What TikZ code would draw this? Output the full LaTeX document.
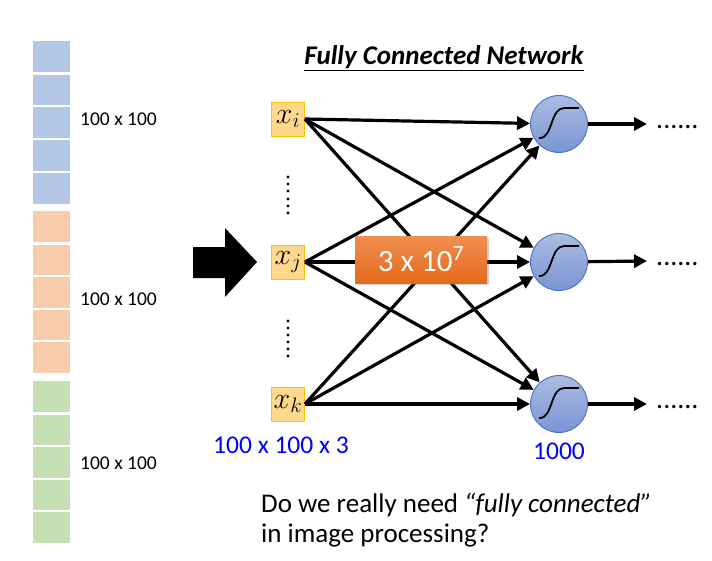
\documentclass[tikz,border=0pt]{standalone}
\usepackage{fix-cm}
\usepackage{fontspec}
\setmainfont{Carlito}
\usetikzlibrary{arrows.meta,shadows}
\definecolor{stripeblue}{RGB}{180,199,231}
\definecolor{stripeorange}{RGB}{248,203,173}
\definecolor{stripegreen}{RGB}{197,224,180}
\definecolor{inbox}{RGB}{255,216,140}
\definecolor{inboxborder}{RGB}{255,192,0}
\definecolor{neutop}{RGB}{172,188,226}
\definecolor{neubot}{RGB}{122,148,212}
\definecolor{neuborder}{RGB}{68,114,196}
\definecolor{ortop}{RGB}{241,142,80}
\definecolor{orbot}{RGB}{228,106,28}
\definecolor{txtblue}{RGB}{0,0,255}
\begin{document}
\begin{tikzpicture}[x=1pt,y=-1pt,
  inputbox/.style={draw=inboxborder,fill=inbox,line width=0.8pt,minimum width=33pt,minimum height=34pt,inner sep=0pt,font=\fontsize{30}{32}\selectfont},
  neuron/.style={circle,draw=neuborder,line width=0.9pt,top color=neutop,bottom color=neubot,minimum size=57pt,inner sep=0pt},
  conn/.style={line width=3.2pt,-{Triangle[length=13pt,width=13pt]}},
  lbl/.style={font=\fontsize{19.5}{22}\selectfont,anchor=west,inner sep=0pt},
  bluelbl/.style={font=\fontsize{25.5}{28}\selectfont,text=txtblue,inner sep=0pt},
  dotsr/.style={font=\fontsize{28}{30}\selectfont,anchor=base west,inner sep=0pt}
]
\useasboundingbox (0,0) rectangle (712,560);
% stripes
\foreach \a/\b in {41/72,75/105,107/138,140/171,173/204}{\fill[stripeblue] (33,\a) rectangle (70,\b);}
\foreach \a/\b in {211/242,245/275,277/308,310/340,342/373}{\fill[stripeorange] (33,\a) rectangle (70,\b);}
\foreach \a/\b in {381/412,415/445,447/478,480/510,512/543}{\fill[stripegreen] (33,\a) rectangle (70,\b);}
\node[lbl] (l1) at (80,119) {100 x 100};
\node[lbl] (l2) at (80,299) {100 x 100};
\node[lbl] (l3) at (80,463) {100 x 100};
% big arrow
\fill[black] (193,247) -- (225,247) -- (225,228) -- (257,262) -- (225,297) -- (225,278) -- (193,278) -- cycle;
% title
\node[font=\bfseries\itshape\fontsize{27}{30}\selectfont,inner sep=0pt] (title) at (444,58) {\underline{Fully Connected Network}};
% inputs
\node[inputbox] (xi) at (288,119) {$x_i$};
\node[inputbox] (xj) at (288,262) {$x_j$};
\node[inputbox] (xk) at (288,404) {$x_k$};
\foreach \y in {177,184,191,199,206,213}{\fill (288,\y) circle (1.7);}
\foreach \y in {321,328,335,342,349,356}{\fill (288,\y) circle (1.7);}
% neurons
\node[neuron] (o1) at (559,124) {};
\node[neuron] (o2) at (559,262) {};
\node[neuron] (o3) at (559,404) {};
\foreach \o in {o1,o2,o3}{
  \draw[line width=1.8pt] ([shift={(-20,14)}]\o.center) .. controls ([shift={(-6,15)}]\o.center) and ([shift={(-9,-16)}]\o.center) .. ([shift={(5,-16)}]\o.center) -- ([shift={(20,-16)}]\o.center);
}
% connections
\foreach \i in {xi,xj,xk}{
  \foreach \o in {o1,o2,o3}{
    \draw[conn] (\i.east) -- (\o);
  }
}
% weight box
\node[draw=none,top color=ortop,bottom color=orbot,minimum width=132pt,minimum height=47pt,inner sep=0pt,text=white,
  font=\fontsize{31}{34}\selectfont,drop shadow={opacity=0.35,shadow xshift=2pt,shadow yshift=-2pt}] (w) at (421,259.5) {3 x 10\textsuperscript{7}};
% outputs
\coordinate (e1) at (647,124);
\coordinate (e2) at (647,261);
\coordinate (e3) at (647,404);
\draw[conn] (o1) -- (e1);
\draw[conn] (o2) -- (e2);
\draw[conn] (o3) -- (e3);
\node[dotsr] (d1) at (656,128) {......};
\node[dotsr] (d2) at (656,265) {......};
\node[dotsr] (d3) at (656,408) {......};
% labels
\node[bluelbl,anchor=west] (inl) at (213,445) {100 x 100 x 3};
\node[bluelbl] (outl) at (559,451) {1000};
\node[font=\fontsize{27}{30}\selectfont,align=left,anchor=base west,inner sep=0pt] (q) at (261,542) {Do we really need \textit{“fully connected”}\\in image processing?};
\end{tikzpicture}
\end{document}
